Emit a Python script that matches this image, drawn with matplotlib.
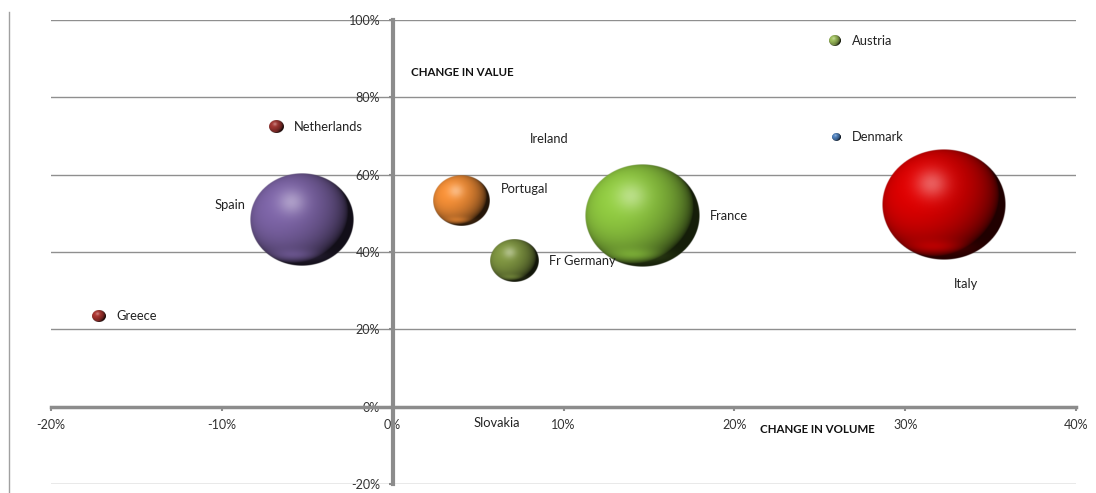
import numpy as np
import matplotlib
matplotlib.use("Agg")
import matplotlib.pyplot as plt
from matplotlib.lines import Line2D
from matplotlib.ticker import FuncFormatter, MultipleLocator

plt.rcParams["font.family"] = ["Lato", "DejaVu Sans"]

countries = ["Greece", "Netherlands", "Spain", "Portugal", "Slovakia", "Fr Germany",
             "Ireland", "France", "Austria", "Denmark", "Italy"]
volume_change = [-17.2, -6.85, -5.3, 4.0, 4.1, 7.1, 7.4, 14.6, 25.9, 26.0, 32.3]
value_change = [23.5, 72.4, 48.4, 53.3, -4.1, 37.8, 69.3, 49.4, 94.6, 69.8, 52.2]
market_size = [1.1, 1.3, 70, 21, 0, 15, 0, 85, 0.9, 0.5, 100]
colors = ["#a8342f", "#9e3531", "#7a62a3", "#f08c35", "#888888", "#7d9340",
          "#888888", "#8dc63f", "#9bbb59", "#4f81bd", "#d80000"]

# label placement tweaks (pixels, relative to bubble)
label_tweaks = {
    "Spain": dict(side="left", dy=15),
    "Portugal": dict(dy=12),
    "Italy": dict(side="below", dx=22, dy=-79),
}

PX_PER_SQRT = 12.4   # bubble diameter in pixels per sqrt(size)
STRETCH = 1.12       # reference bubbles are a bit wider than tall


def sphere(color, n=240):
    base = np.array(matplotlib.colors.to_rgb(color))
    u = np.linspace(-1, 1, n)
    X, Y = np.meshgrid(u, u)
    r = np.sqrt(X ** 2 + Y ** 2)
    Z = np.sqrt(np.clip(1 - r ** 2, 0, 1))
    L = np.array([-0.45, 0.35, 0.82])
    L = L / np.linalg.norm(L)
    diff = np.clip(X * L[0] + Y * L[1] + Z * L[2], 0, 1)
    shade = 0.15 + 0.9 * diff ** 0.6
    rgb = base[None, None, :] * shade[..., None]
    spec = 0.4 * np.exp(-((X + 0.2) ** 2 + (Y - 0.38) ** 2) / 0.07)
    glow = 0.25 * np.exp(-((Y + 0.78) ** 2) / 0.015) * np.exp(-(X + 0.1) ** 2 / 0.25)
    rgb = rgb + spec[..., None] * (1 - rgb) * 0.9 + glow[..., None] * base
    rgb = np.clip(rgb, 0, 1)
    alpha = np.clip((1 - r) * n / 2.0, 0, 1)
    return np.dstack([rgb, alpha])


fig = plt.figure(figsize=(10.96, 4.93), dpi=100)
ax = fig.add_axes([51 / 1096, 9 / 493, 1025 / 1096, 464 / 493])
ax.set_xlim(-20, 40)
ax.set_ylim(-20, 100)

# horizontal gridlines
ax.yaxis.set_major_locator(MultipleLocator(20))
ax.xaxis.set_major_locator(MultipleLocator(10))
ax.grid(axis="y", color="#8f8f8f", linewidth=1.0)
ax.grid(axis="x", visible=False)
ax.set_axisbelow(True)
for gl in ax.get_ygridlines():
    gl.set_clip_on(False)

for s in ["top", "right"]:
    ax.spines[s].set_visible(False)
ax.spines["left"].set_position(("data", 0))
ax.spines["bottom"].set_position(("data", 0))
ax.spines["left"].set_color("#8c8c8c")
ax.spines["bottom"].set_color("#8c8c8c")
ax.spines["left"].set_linewidth(3.0)
ax.spines["bottom"].set_linewidth(2.5)
ax.spines["left"].set_zorder(1.5)
ax.spines["bottom"].set_zorder(1.5)

pct = FuncFormatter(lambda v, p: f"{v:.0f}%")
ax.xaxis.set_major_formatter(pct)
ax.yaxis.set_major_formatter(pct)
ax.tick_params(axis="both", colors="#8c8c8c", labelcolor="#333333",
               labelsize=9, length=3, width=1.5)
ax.tick_params(axis="y", pad=6)
ax.tick_params(axis="x", pad=6)

fig.canvas.draw()
px_x = ax.bbox.width / 60.0
px_y = ax.bbox.height / 120.0

for name, x, y, s, c in zip(countries, volume_change, value_change, market_size, colors):
    d = PX_PER_SQRT * np.sqrt(s)
    if d > 0:
        hw = d / 2 / px_x
        hh = d / 2 / STRETCH / px_y
        ax.imshow(sphere(c), extent=(x - hw, x + hw, y - hh, y + hh),
                  origin="lower", interpolation="bilinear", zorder=3, aspect="auto")
    t = label_tweaks.get(name, {})
    side = t.get("side", "right")
    if side == "right":
        dx, ha = d / 2 + 11, "left"
    elif side == "left":
        dx, ha = -(d / 2 + 5), "right"
    else:
        dx, ha = t.get("dx", 0), "center"
    ax.annotate(name, (x, y), xytext=(dx, t.get("dy", 0)), textcoords="offset pixels",
                ha=ha, va="center", fontsize=9.3, color="#222222", zorder=4)

ax.set_xlim(-20, 40)
ax.set_ylim(-20, 100)

ax.text(1.05, 86.4, "CHANGE IN VALUE", fontsize=8.3, fontweight="bold",
        ha="left", va="center", color="#111111")
ax.text(21.5, -5.9, "CHANGE IN VOLUME", fontsize=8.3, fontweight="bold",
        ha="left", va="center", color="#111111")

fig.add_artist(Line2D([9 / 1096, 9 / 1096], [0, 481 / 493], color="#a0a0a0",
                      linewidth=1.0, transform=fig.transFigure))

fig.savefig("out.png", dpi=100)
